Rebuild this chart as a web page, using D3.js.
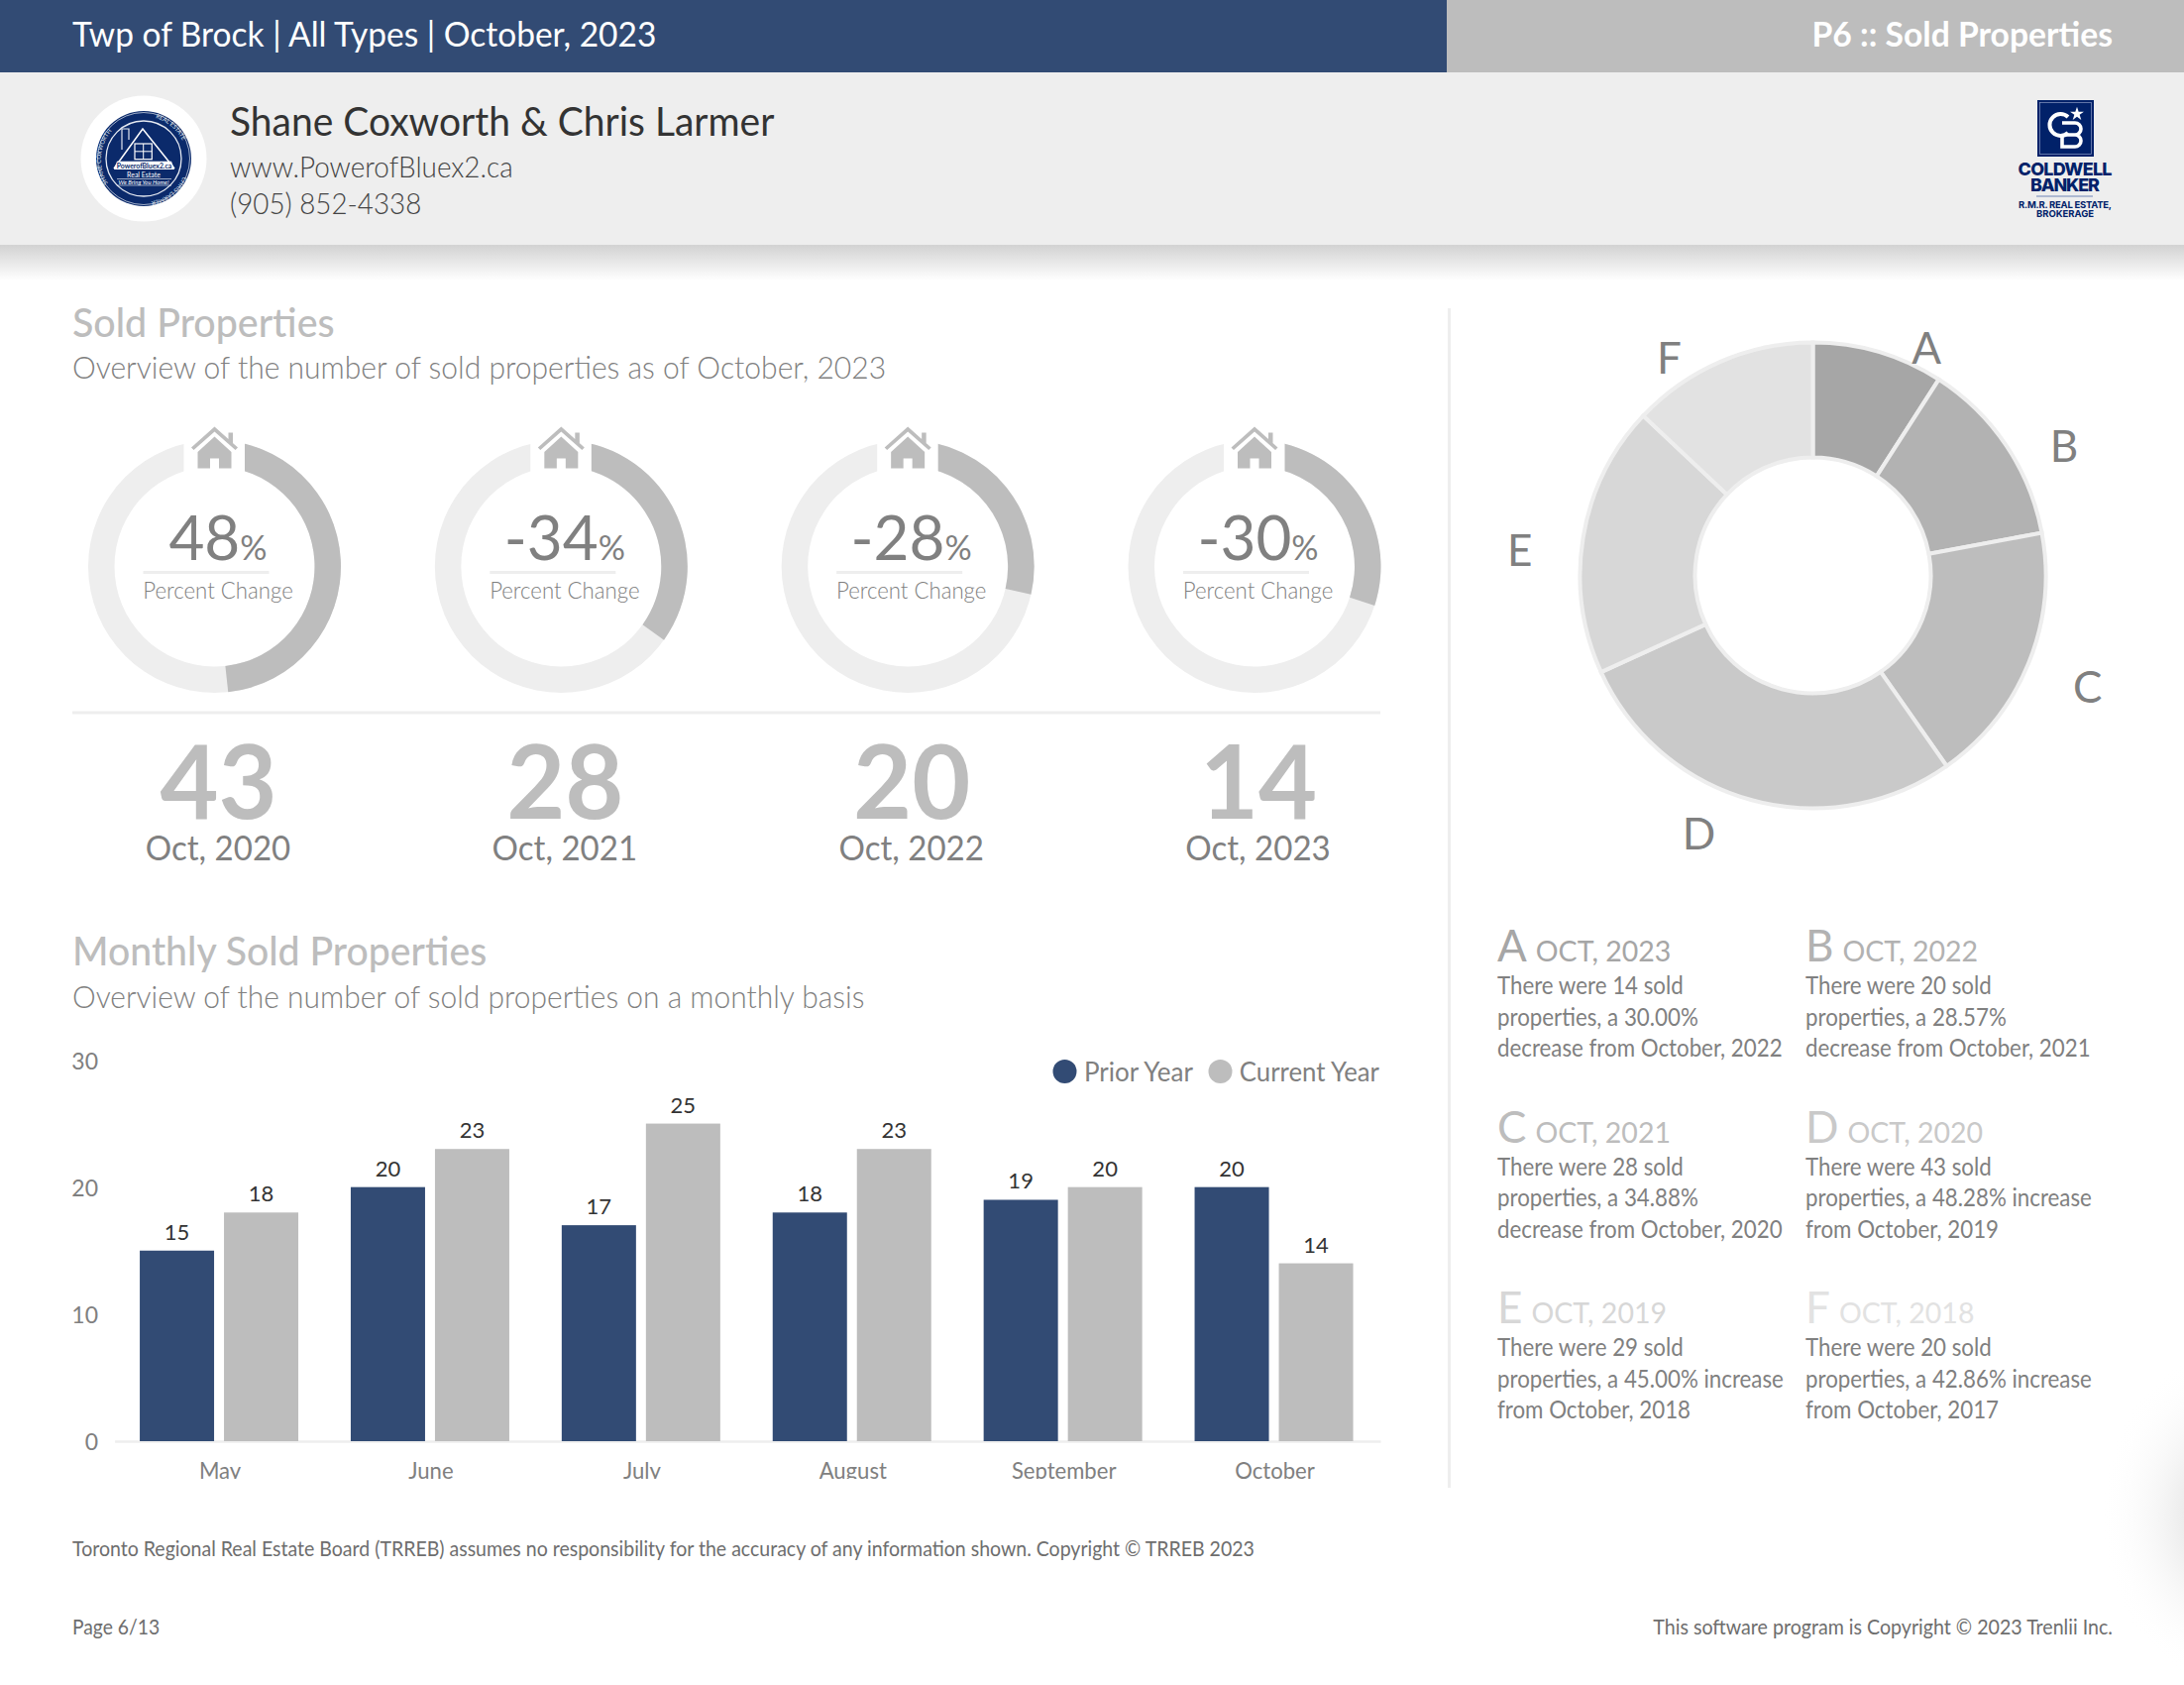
<!DOCTYPE html>
<html>
<head>
<meta charset="utf-8">
<script src="https://cdn.jsdelivr.net/npm/d3@7"></script>
<style>
  html, body { margin: 0; padding: 0; background: #fff; }
  svg { display: block; font-family: Lato, Carlito, sans-serif; }
</style>
</head>
<body>
<div id="page"></div>
<script>
// gauges across the top (ring uses the full percent, the label is cut to whole numbers)
const gaugeChange = [48.28, 34.88, 28.57, 30]
const gaugeText = ['48', '-34', '-28', '-30']
const gaugeCount = [43, 28, 20, 14]
const gaugeLabel = ['Oct, 2020', 'Oct, 2021', 'Oct, 2022', 'Oct, 2023']

// monthly bars
const months = ['May', 'June', 'July', 'August', 'September', 'October']
const priorYear = [15, 20, 17, 18, 19, 20]
const currentYear = [18, 23, 25, 23, 20, 14]
const yTicks = [0, 10, 20, 30]

// donut + its legend
const pieLetters = ['A', 'B', 'C', 'D', 'E', 'F']
const pieValues = [14, 20, 28, 43, 29, 20]
const pieYears = ['OCT, 2023', 'OCT, 2022', 'OCT, 2021', 'OCT, 2020', 'OCT, 2019', 'OCT, 2018']
const pieColors = ['#a6a6a6', '#b2b2b2', '#bdbdbd', '#c9c9c9', '#d7d7d7', '#e2e2e2']
const pieNotes = [
  ['There were 14 sold', 'properties, a 30.00%', 'decrease from October, 2022'],
  ['There were 20 sold', 'properties, a 28.57%', 'decrease from October, 2021'],
  ['There were 28 sold', 'properties, a 34.88%', 'decrease from October, 2020'],
  ['There were 43 sold', 'properties, a 48.28% increase', 'from October, 2019'],
  ['There were 29 sold', 'properties, a 45.00% increase', 'from October, 2018'],
  ['There were 20 sold', 'properties, a 42.86% increase', 'from October, 2017']
]

const blue = '#324b74', grey = '#bdbdbd', pale = '#eeeeee', textGrey = '#808080'

const svg = d3.select('#page').append('svg')
    .attr('width', 2204)
    .attr('height', 1700)

const defs = svg.append('defs')

// shadow under the header
const shadow = defs.append('linearGradient').attr('id', 'headShadow')
    .attr('x1', 0).attr('x2', 0).attr('y1', 0).attr('y2', 1)
shadow.append('stop').attr('offset', 0).attr('stop-color', '#d2d2d2')
shadow.append('stop').attr('offset', 1).attr('stop-color', '#ffffff')

// faint smudge on the right edge
const smudge = defs.append('radialGradient').attr('id', 'smudge')
smudge.append('stop').attr('offset', 0.35).attr('stop-color', '#ececec')
smudge.append('stop').attr('offset', 1).attr('stop-color', '#ffffff').attr('stop-opacity', 0)

defs.append('clipPath').attr('id', 'barClip')
    .append('rect').attr('x', 0).attr('y', 1040).attr('width', 1400).attr('height', 452)

// Lato runs wider than the font in the source, so pull each text in a bit
function squeeze(sel, k) {
    sel.each(function() {
        d3.select(this)
            .attr('textLength', this.getComputedTextLength() * k)
            .attr('lengthAdjust', 'spacingAndGlyphs')
    })
    return sel
}

function label(parent, x, y, text, size, fill, opts) {
    opts = opts || {}
    const t = parent.append('text')
        .attr('x', x)
        .attr('y', y)
        .attr('font-size', size)
        .attr('font-weight', opts.weight || 400)
        .attr('text-anchor', opts.anchor || 'start')
        .attr('fill', fill)
        .text(text)
    if (opts.k) squeeze(t, opts.k)
    return t
}

svg.append('ellipse').attr('cx', 2250).attr('cy', 1530).attr('rx', 130).attr('ry', 170)
    .attr('fill', 'url(#smudge)')

// header bands
svg.append('rect').attr('width', 1460).attr('height', 73).attr('fill', blue)
svg.append('rect').attr('x', 1460).attr('width', 744).attr('height', 73).attr('fill', grey)
svg.append('rect').attr('y', 73).attr('width', 2204).attr('height', 174).attr('fill', pale)
svg.append('rect').attr('y', 247).attr('width', 2204).attr('height', 36).attr('fill', 'url(#headShadow)')

label(svg, 73, 47, 'Twp of Brock | All Types | October, 2023', 35, '#fff', {k: 0.957})
label(svg, 2132, 47, 'P6 :: Sold Properties', 34, '#fff', {anchor: 'end', weight: 700, k: 0.99})

label(svg, 232, 137, 'Shane Coxworth & Chris Larmer', 41, '#333', {k: 0.951})
label(svg, 232, 179, 'www.PowerofBluex2.ca', 29, '#444', {weight: 300, k: 0.962})
label(svg, 232, 216, '(905) 852-4338', 29, '#444', {weight: 300, k: 0.958})

// agent badge
const badge = svg.append('g').attr('transform', 'translate(145,160)')
const navy = '#0b2a6b'
badge.append('circle').attr('r', 63.5).attr('fill', '#fff')
badge.append('circle').attr('r', 48).attr('fill', navy)
badge.append('circle').attr('r', 46.5).attr('fill', 'none').attr('stroke', '#c8d0e0').attr('stroke-width', 0.8)
badge.append('circle').attr('r', 38).attr('fill', 'none').attr('stroke', '#e6eaf2').attr('stroke-width', 1.3)
badge.append('path').attr('d', 'M-30,10 L-1,-30 L31,10')
    .attr('fill', 'none').attr('stroke', '#fff').attr('stroke-width', 1.5)
badge.append('path').attr('d', 'M-22,-9 V-30 H-15 V-19')
    .attr('fill', 'none').attr('stroke', '#dfe4ee').attr('stroke-width', 1.2)
badge.append('rect').attr('x', -9).attr('y', -15).attr('width', 17.3).attr('height', 15.7)
    .attr('fill', 'none').attr('stroke', '#fff').attr('stroke-width', 1.2)
badge.append('path').attr('d', 'M-0.3,-15 V0.7 M-9,-7.2 H8.3').attr('stroke', '#fff').attr('stroke-width', 1)
badge.append('path').attr('d', 'M-27,2.7 H28 L31,11 H-30 Z').attr('fill', '#fff')
label(badge, 0.5, 9.8, 'PowerofBluex2.ca', 8, navy, {anchor: 'middle', weight: 700, k: 0.86})
label(badge, 0, 18.5, 'Real Estate', 7, '#fff', {anchor: 'middle'})
badge.append('path').attr('d', 'M-27,20.5 H28 M-27,27 H28').attr('stroke', '#fff').attr('stroke-width', 0.6)
label(badge, 0, 25.5, 'We Bring You Home!', 6, '#fff', {anchor: 'middle'}).attr('font-style', 'italic')
defs.append('path').attr('id', 'badgeRingLeft').attr('d', 'M-36,25 A44,44 0 0 1 -12,-41')
defs.append('path').attr('id', 'badgeRingTop').attr('d', 'M12,-41 A44,44 0 0 1 43,-6')
defs.append('path').attr('id', 'badgeRingLow').attr('d', 'M40,18 A44,44 0 0 1 -8,43')
const ringText = (href, size, text) => badge.append('text')
    .attr('font-size', size).attr('fill', '#dfe4ee')
    .append('textPath').attr('href', href).text(text)
ringText('#badgeRingLeft', 6, 'SHANE COXWORTH')
ringText('#badgeRingTop', 6, 'REAL ESTATE')
ringText('#badgeRingLow', 6, 'CHRIS LARMER')

// brokerage logo
const cb = svg.append('g')
const cbNavy = '#012169'
cb.append('rect').attr('x', 2056).attr('y', 101).attr('width', 57).attr('height', 57).attr('fill', cbNavy)
cb.append('rect').attr('x', 2058.5).attr('y', 103.5).attr('width', 52).attr('height', 52)
    .attr('fill', 'none').attr('stroke', '#8c9bc4').attr('stroke-width', 0.7)
cb.append('path').attr('d', 'M2087,118 A11,11 0 1 0 2087,134')
    .attr('fill', 'none').attr('stroke', '#fff').attr('stroke-width', 4)
cb.append('path').attr('d', 'M2081,124 H2094 A5.5,5.5 0 0 1 2094,136 H2085 M2094,136 A6,6 0 0 1 2094,148 H2081 V138')
    .attr('fill', 'none').attr('stroke', '#fff').attr('stroke-width', 3.6)
cb.append('path').attr('d', d3.symbol(d3.symbolStar, 60)())
    .attr('transform', 'translate(2096,115)').attr('fill', '#fff')
label(cb, 2084, 177, 'COLDWELL', 18, cbNavy, {anchor: 'middle', weight: 800}).attr('font-family', 'Inter').attr('textLength', 95)
label(cb, 2084, 193, 'BANKER', 18, cbNavy, {anchor: 'middle', weight: 800}).attr('font-family', 'Inter').attr('textLength', 70)
cb.append('rect').attr('x', 2055).attr('y', 197.5).attr('width', 57).attr('height', 1).attr('fill', '#6f83b5')
label(cb, 2084, 210, 'R.M.R. REAL ESTATE,', 9.5, cbNavy, {anchor: 'middle', weight: 700}).attr('font-family', 'Inter').attr('textLength', 94)
label(cb, 2084, 219, 'BROKERAGE', 9.5, cbNavy, {anchor: 'middle', weight: 700}).attr('font-family', 'Inter').attr('textLength', 58)

// section titles
label(svg, 73, 339.5, 'Sold Properties', 40, grey, {weight: 500, k: 0.984})
label(svg, 73, 382, 'Overview of the number of sold properties as of October, 2023', 32, textGrey, {weight: 300, k: 0.939})
label(svg, 73, 974, 'Monthly Sold Properties', 40, grey, {weight: 500, k: 0.98})
label(svg, 73, 1017, 'Overview of the number of sold properties on a monthly basis', 32, textGrey, {weight: 300, k: 0.937})

// gauges
const gaugeX = d3.scalePoint().domain(d3.range(gaugeChange.length)).range([216.5, 1266])
const gaugeAngle = d3.scaleLinear().domain([0, 100]).range([0, 2 * Math.PI])
const ringArc = d3.arc().innerRadius(101).outerRadius(127.5)

const gauges = svg.selectAll('.gauge')
    .data(gaugeChange)
    .enter()
    .append('g')
    .attr('class', 'gauge')
    .attr('transform', (d, i) => `translate(${gaugeX(i)},571.5)`)

gauges.append('path')
    .attr('d', ringArc({startAngle: 0, endAngle: 2 * Math.PI}))
    .attr('fill', pale)
gauges.append('path')
    .attr('d', d => ringArc({startAngle: 0, endAngle: gaugeAngle(d)}))
    .attr('fill', grey)
gauges.append('rect').attr('x', -31).attr('y', -145).attr('width', 61.5).attr('height', 50).attr('fill', '#fff')
// little house
gauges.append('path')
    .attr('d', 'M-23.5,-120 L0,-141 L23.5,-120 L21,-117.5 L0,-136 L-21,-117.5 Z M14,-135 H18.5 V-123 L14,-127 Z')
    .attr('fill', grey)
gauges.append('path')
    .attr('d', 'M-17,-115.5 L0,-131 L17,-115.5 V-99 H4.5 V-109 H-4.5 V-99 H-17 Z')
    .attr('fill', grey)

const pctText = gauges.append('text')
    .attr('x', 3.5)
    .attr('y', -7)
    .attr('text-anchor', 'middle')
    .attr('fill', textGrey)
pctText.append('tspan').attr('font-size', 62).text((d, i) => gaugeText[i])
pctText.append('tspan').attr('font-size', 34).text('%')

gauges.append('rect').attr('x', -72).attr('y', 4.5).attr('width', 127).attr('height', 3).attr('fill', pale)
squeeze(gauges.append('text')
    .attr('x', 3.5)
    .attr('y', 32)
    .attr('text-anchor', 'middle')
    .attr('font-size', 23)
    .attr('font-weight', 300)
    .attr('fill', textGrey)
    .text('Percent Change'), 0.965)

squeeze(gauges.append('text')
    .attr('x', 4)
    .attr('y', 254.5)
    .attr('text-anchor', 'middle')
    .attr('font-size', 104)
    .attr('font-weight', 700)
    .attr('fill', grey)
    .text((d, i) => gaugeCount[i]), 0.98)
squeeze(gauges.append('text')
    .attr('x', 3.5)
    .attr('y', 296.5)
    .attr('text-anchor', 'middle')
    .attr('font-size', 34)
    .attr('fill', textGrey)
    .text((d, i) => gaugeLabel[i]), 0.972)

svg.append('rect').attr('x', 73).attr('y', 717.5).attr('width', 1320).attr('height', 3).attr('fill', pale)
svg.append('rect').attr('x', 1461).attr('y', 311).attr('width', 3).attr('height', 1190).attr('fill', pale)

// bars
const barTop = 1069.5, barBottom = 1454
const x0 = d3.scaleBand().domain(months).range([115.6, 1393]).paddingInner(0.2485).paddingOuter(0.12425)
const x1 = d3.scaleBand().domain(['prior', 'current']).range([0, x0.bandwidth()]).paddingInner(0.1176)
const y = d3.scaleLinear().domain([0, 30]).range([barBottom, barTop])

const barGroup = svg.append('g').attr('clip-path', 'url(#barClip)')

const xAxis = barGroup.append('g')
    .attr('transform', `translate(0,${barBottom})`)
    .call(d3.axisBottom(x0).tickSize(0).tickPadding(21.5))
xAxis.select('.domain').attr('stroke', pale).attr('stroke-width', 2.5)
squeeze(xAxis.selectAll('text').attr('font-size', 23).attr('font-family', 'Lato').attr('fill', textGrey), 0.96)

const yAxis = svg.append('g')
    .attr('transform', 'translate(99,1.5)')
    .call(d3.axisLeft(y).tickValues(yTicks).tickSize(0).tickPadding(0))
yAxis.select('.domain').remove()
yAxis.selectAll('text').attr('font-size', 23).attr('font-family', 'Lato').attr('fill', textGrey)

const monthGroups = barGroup.selectAll('.month')
    .data(months)
    .enter()
    .append('g')
    .attr('class', 'month')
    .attr('transform', d => `translate(${x0(d) - 1},0)`)

monthGroups.append('rect')
    .attr('x', x1('prior'))
    .attr('y', (d, i) => y(priorYear[i]))
    .attr('width', x1.bandwidth())
    .attr('height', (d, i) => barBottom - y(priorYear[i]))
    .attr('fill', blue)
monthGroups.append('rect')
    .attr('x', x1('current'))
    .attr('y', (d, i) => y(currentYear[i]))
    .attr('width', x1.bandwidth())
    .attr('height', (d, i) => barBottom - y(currentYear[i]))
    .attr('fill', grey)
monthGroups.append('text')
    .attr('x', x1('prior') + x1.bandwidth() / 2)
    .attr('y', (d, i) => y(priorYear[i]) - 11)
    .attr('text-anchor', 'middle')
    .attr('font-size', 22)
    .attr('fill', '#333')
    .text((d, i) => priorYear[i])
monthGroups.append('text')
    .attr('x', x1('current') + x1.bandwidth() / 2)
    .attr('y', (d, i) => y(currentYear[i]) - 11)
    .attr('text-anchor', 'middle')
    .attr('font-size', 22)
    .attr('fill', '#333')
    .text((d, i) => currentYear[i])

// legend
svg.append('circle').attr('cx', 1074.5).attr('cy', 1081).attr('r', 12).attr('fill', blue)
label(svg, 1094, 1091, 'Prior Year', 26, textGrey)
svg.append('circle').attr('cx', 1231.5).attr('cy', 1081).attr('r', 12).attr('fill', grey)
label(svg, 1392, 1091, 'Current Year', 26, textGrey, {anchor: 'end', k: 0.99})

// donut
const pie = d3.pie().sort(null)
const pieArc = d3.arc().innerRadius(119).outerRadius(235)
const donut = svg.append('g').attr('transform', 'translate(1829.5,580.5)')

donut.selectAll('path')
    .data(pie(pieValues))
    .enter()
    .append('path')
    .attr('d', pieArc)
    .attr('fill', (d, i) => pieColors[i])
    .attr('stroke', pale)
    .attr('stroke-width', 4)

// letters sit round the ring, not exactly on the slice mid angle
const letterAngle = [26.5, 62.8, 112, 203.8, 275, 326.5]
const letterRadius = [257, 285, 299, 285, 297, 263]
donut.selectAll('.letter')
    .data(pieLetters)
    .enter()
    .append('text')
    .attr('class', 'letter')
    .attr('x', (d, i) => d3.pointRadial(letterAngle[i] * Math.PI / 180, letterRadius[i])[0])
    .attr('y', (d, i) => d3.pointRadial(letterAngle[i] * Math.PI / 180, letterRadius[i])[1] + 16)
    .attr('text-anchor', 'middle')
    .attr('font-size', 44)
    .attr('fill', textGrey)
    .text(d => d)

// legend notes under the donut
const noteCols = [1511, 1822]
const noteRows = [970, 1152.5, 1335]
const notes = svg.selectAll('.note')
    .data(pieLetters)
    .enter()
    .append('g')
    .attr('class', 'note')
    .attr('transform', (d, i) => `translate(${noteCols[i % 2]},${noteRows[Math.floor(i / 2)]})`)

const heads = notes.append('text').attr('fill', (d, i) => pieColors[i])
heads.append('tspan').attr('font-size', 44).text(d => d)
heads.append('tspan').attr('font-size', 28.5).attr('dx', 9).text((d, i) => pieYears[i])

pieNotes[0].forEach((unused, line) => {
    squeeze(notes.append('text')
        .attr('y', 33 + line * 31.7)
        .attr('font-size', 24.5)
        .attr('fill', textGrey)
        .text((d, i) => pieNotes[i][line]), 0.91)
})

// footer
label(svg, 73, 1569.5, 'Toronto Regional Real Estate Board (TRREB) assumes no responsibility for the accuracy of any information shown. Copyright © TRREB 2023', 20.5, '#6e6e6e', {k: 0.952})
label(svg, 73, 1648.5, 'Page 6/13', 20.5, '#6e6e6e', {k: 0.94})
label(svg, 2132, 1648.5, 'This software program is Copyright © 2023 Trenlii Inc.', 20.5, '#6e6e6e', {anchor: 'end', k: 0.957})
</script>
</body>
</html>
